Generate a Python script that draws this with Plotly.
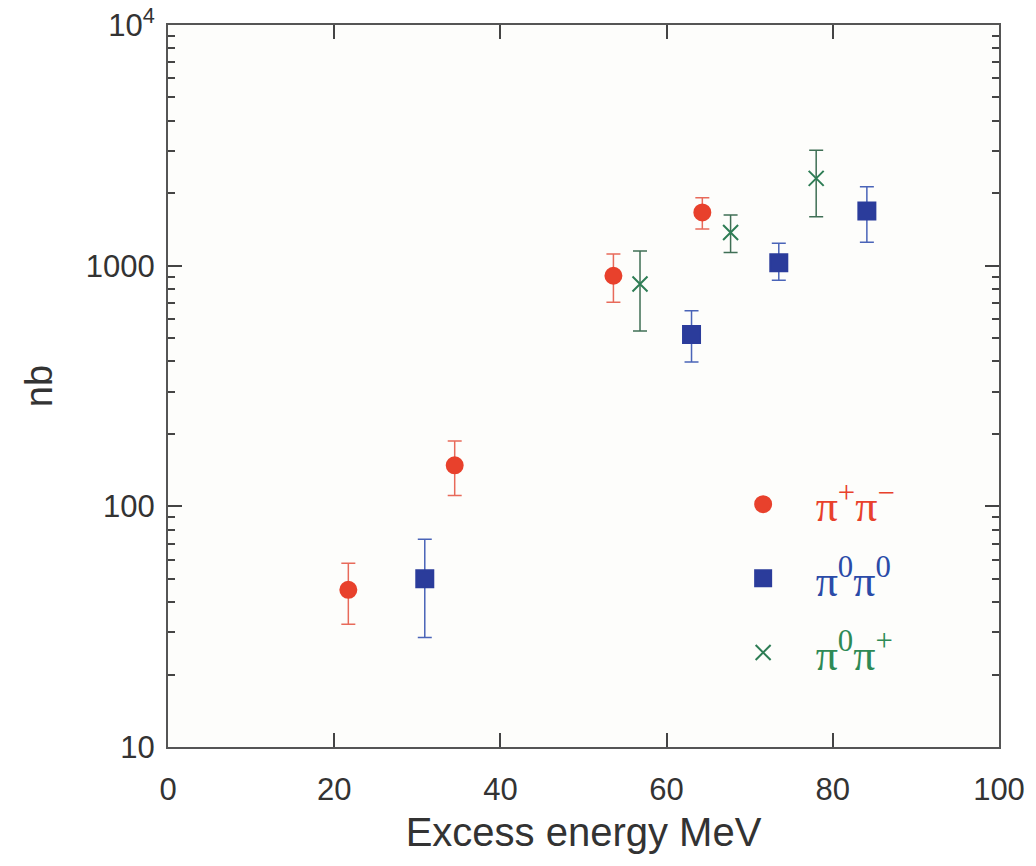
import plotly.graph_objects as go

# pi+ pi- (red circles)
pm_x = [21.7, 34.5, 53.6, 64.3]
pm_y = [45, 148, 908, 1665]
pm_hi = [58, 187, 1117, 1915]
pm_lo = [32.4, 111, 704, 1419]

# pi0 pi0 (blue squares)
zz_x = [30.9, 63.0, 73.5, 84.1]
zz_y = [50, 518, 1028, 1686]
zz_hi = [73, 649, 1238, 2128]
zz_lo = [28.5, 398, 869, 1250]

# pi0 pi+ (green crosses)
zp_x = [56.8, 67.7, 78.0]
zp_y = [839, 1374, 2305]
zp_hi = [1150, 1622, 3020]
zp_lo = [535, 1135, 1596]

x_ticks = [0, 20, 40, 60, 80, 100]
y_ticks = [10, 100, 1000, 10000]
y_ticktext = ["10", "100", "1000", "10<sup>4</sup>"]
y_minor = [m * d for d in [10, 100, 1000] for m in range(2, 10)]

def errs(y, hi, lo):
    return [h - v for v, h in zip(y, hi)], [v - l for v, l in zip(y, lo)]

fig = go.Figure()

series = [
    (pm_x, pm_y, pm_hi, pm_lo, "#e8412c", "#e86a5a", "circle", 16,
     '<span style="color:#e8412c">π<sup>+</sup>π<sup>−</sup></span>', "a"),
    (zz_x, zz_y, zz_hi, zz_lo, "#2b3c9b", "#4a64b8", "square", 17,
     '<span style="color:#2b4ba8">π<sup>0</sup>π<sup>0</sup></span>', "b"),
    (zp_x, zp_y, zp_hi, zp_lo, "#2e7d55", "#3f6f55", "x-thin", 15,
     '<span style="color:#2e8a55">π<sup>0</sup>π<sup>+</sup></span>', "c"),
]

for x, y, hi, lo, col, ecol, sym, size, name, grp in series:
    up, dn = errs(y, hi, lo)
    fig.add_trace(go.Scatter(
        x=x, y=y, mode="markers", name=name, legendgroup=grp,
        marker=dict(symbol=sym, size=size, color=col,
                    line=dict(color=col, width=2)),
        error_y=dict(type="data", symmetric=False, array=up, arrayminus=dn,
                     color=ecol, thickness=1.5, width=7),
    ))

fig.update_layout(
    width=1036, height=866,
    margin=dict(l=168, r=37, t=25, b=119, autoexpand=False),
    paper_bgcolor="white", plot_bgcolor="#fdfdfb",
    font=dict(family="Liberation Sans, Arial", color="#333333", size=30),
    showlegend=True,
    legend=dict(x=0.653, y=0.385, xanchor="left", yanchor="top",
                bgcolor="rgba(0,0,0,0)", tracegroupgap=14, itemwidth=95,
                font=dict(family="Liberation Serif, Times New Roman", size=44),
                itemsizing="trace"),
    xaxis=dict(
        range=[0, 100], tickvals=x_ticks, ticks="inside", ticklen=14,
        tickwidth=1.5, tickcolor="#444", showline=True, linecolor="#555",
        linewidth=2, mirror="ticks", showgrid=False, zeroline=False,
        tickfont=dict(size=31), ticklabelstandoff=14, automargin=False,
        title=dict(text="Excess energy MeV", font=dict(size=40), standoff=12),
    ),
    yaxis=dict(
        type="log", range=[1, 4], tickvals=y_ticks, ticktext=y_ticktext,
        ticks="inside", ticklen=14, tickwidth=1.5, tickcolor="#444",
        minor=dict(tickvals=y_minor, ticks="inside", ticklen=7,
                   tickcolor="#444", tickwidth=1.5, showgrid=False),
        showline=True, linecolor="#555", linewidth=2, mirror="ticks",
        showgrid=False, zeroline=False, tickfont=dict(size=31),
        ticklabelstandoff=5, automargin=False,
        title=dict(text="nb", font=dict(size=38), standoff=22),
    ),
)

fig.write_html("out.html")
